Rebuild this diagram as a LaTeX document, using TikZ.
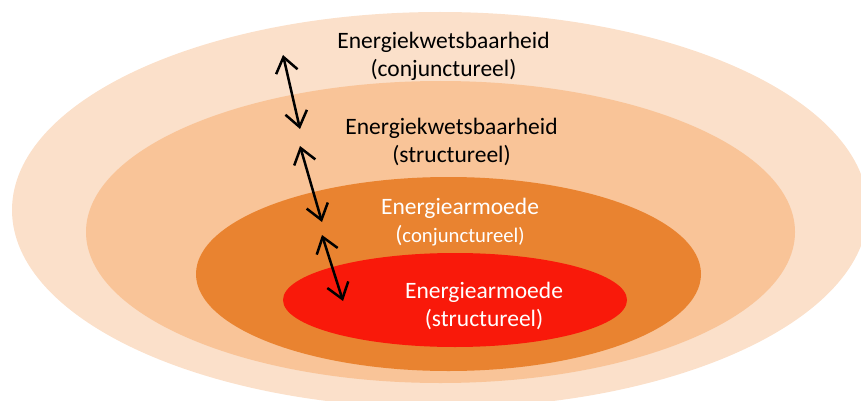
\documentclass[tikz,border=0pt]{standalone}
\usepackage{fontspec}
\setmainfont{Carlito}
\usetikzlibrary{arrows.meta}
\definecolor{ringA}{RGB}{251,224,202}
\definecolor{ringB}{RGB}{249,196,152}
\definecolor{ringC}{RGB}{233,131,48}
\definecolor{ringD}{RGB}{249,25,10}
\tikzset{
  lbl/.style={align=center, inner sep=0pt, font=\fontsize{23.5}{28}\selectfont},
  dbl/.style={line width=2.5pt, {Straight Barb[length=15pt,width=22pt]}-{Straight Barb[length=15pt,width=22pt]}}
}
\begin{document}
\begin{tikzpicture}[x=1pt,y=-1pt]
\useasboundingbox (0,0) rectangle (861,401);
\clip (0,0) rectangle (861,401);
\fill[ringA] (440,210) ellipse [x radius=428, y radius=198];
\fill[ringB] (440.5,232) ellipse [x radius=354.5, y radius=151];
\fill[ringC] (448.5,274) ellipse [x radius=252.5, y radius=97];
\fill[ringD] (455,300) ellipse [x radius=172, y radius=47];

\node[lbl, text=black] (t1) at (443.5,56) {Energiekwetsbaarheid\\(conjunctureel)};
\node[lbl, text=black] (t2) at (451.5,141.5) {Energiekwetsbaarheid\\(structureel)};
\node[lbl, text=white] (t3) at (460,222) {Energiearmoede\\({\fontsize{20.7}{28}\selectfont conjunctureel)}};
\node[lbl, text=white] (t4) at (484,305.5) {Energiearmoede\\(structureel)};

\coordinate (a1s) at (283,55);
\coordinate (a1e) at (300,129);
\coordinate (a2s) at (300,146);
\coordinate (a2e) at (322,222);
\coordinate (a3s) at (322,235);
\coordinate (a3e) at (343,301);
\draw[dbl] (a1s) -- (a1e);
\draw[dbl] (a2s) -- (a2e);
\draw[dbl] (a3s) -- (a3e);
\end{tikzpicture}
\end{document}
